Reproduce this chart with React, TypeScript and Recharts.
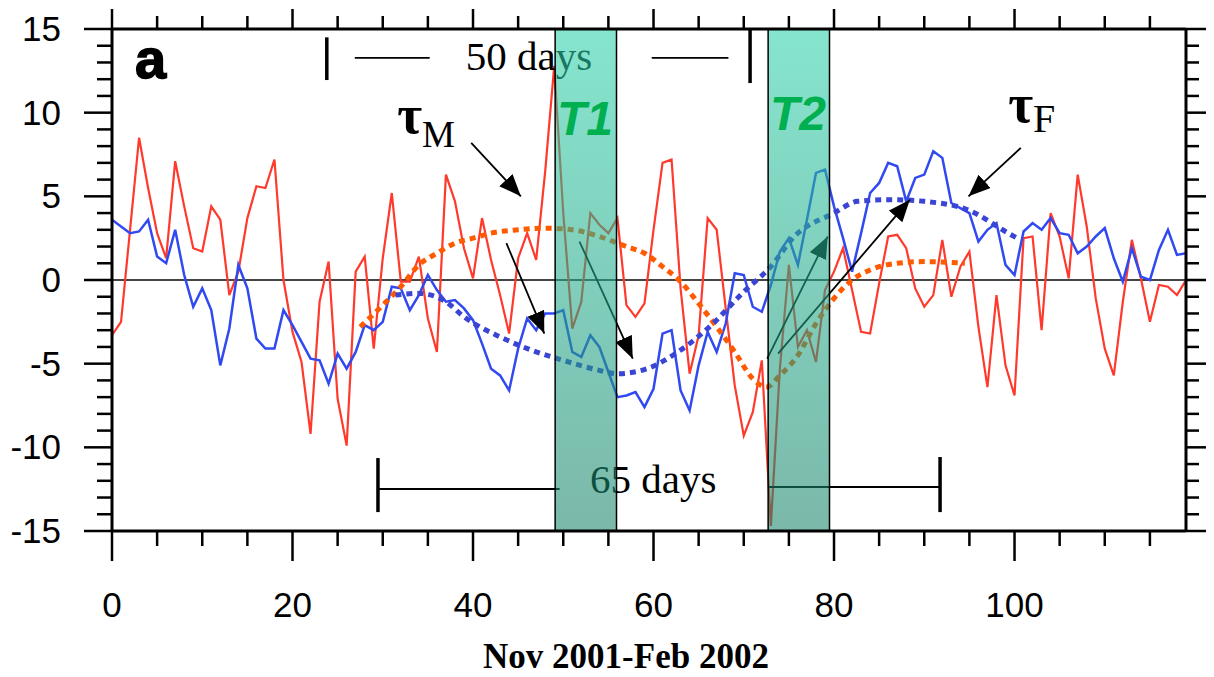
import { ComposedChart, Line, XAxis, YAxis, ReferenceArea, ReferenceLine, ReferenceDot } from "recharts";

const SANS = "'Liberation Sans', Arial, sans-serif";
const SERIF = "'Liberation Serif', 'Times New Roman', serif";

// day index, Nov 2001 - Feb 2002
const days = Array.from({ length: 120 }, (_, i) => i);

// red series (tau_M)
const red = [
  -3.3, -2.5, 3.0, 8.5, 5.5, 2.8, 1.3, 7.1, 4.4, 1.9,
  1.7, 4.4, 3.6, -0.9, 0.5, 3.7, 5.6, 5.5, 7.2, 0.0,
  -3.1, -4.9, -9.2, -1.3, 1.1, -7.1, -9.9, 0.5, 1.4, -4.1,
  1.3, 5.2, -0.1, -0.1, 1.4, -2.3, -4.3, 6.3, 4.7, 1.9,
  0.1, 3.7, 1.2, -0.9, -3.2, 1.3, 2.8, 1.2, 6.5, 12.8,
  4.0, -2.9, -1.3, 4.0, 3.3, 2.8, 3.7, -1.5, -2.2, -1.4,
  3.0, 7.0, 7.2, -0.5, -5.6, -3.3, 3.7, 3.0, -1.7, -6.3,
  -9.3, -7.9, -4.8, -14.7, -5.3, 0.9, -4.0, -3.0, -4.9, -0.6,
  0.5, 1.9, -0.6, -3.1, -3.2, -0.2, 2.6, 2.7, 1.9, -0.5,
  -1.6, -0.9, 2.4, -1.0, 0.8, 1.7, -2.8, -6.4, -0.9, -5.1,
  -6.9, 2.5, 2.6, -3.0, 4.0, 2.6, 0.1, 6.3, 3.2, -1.1,
  -4.1, -5.7, -1.3, 2.4, 0.1, -2.5, -0.3, -0.4, -0.9, 0.0,
];

// blue series (tau_F)
const blue = [
  3.6, 3.2, 2.8, 2.9, 3.6, 1.4, 1.0, 3.0, 0.3, -1.6,
  -0.5, -1.8, -5.1, -2.9, 0.9, -0.5, -3.5, -4.1, -4.1, -1.8,
  -2.7, -3.7, -4.7, -4.8, -6.2, -4.4, -5.3, -4.3, -2.7, -3.0,
  -2.5, -0.4, -0.5, -1.8, -0.9, 0.3, -0.6, -1.3, -1.2, -1.7,
  -2.4, -3.8, -5.3, -5.7, -6.6, -4.1, -2.3, -3.0, -2.0, -2.0,
  -1.8, -4.3, -4.6, -3.3, -4.0, -5.5, -7.0, -6.9, -6.7, -7.6,
  -6.5, -3.2, -3.0, -6.6, -7.8, -5.1, -3.1, -4.3, -2.6, 0.4,
  0.3, -1.6, -1.9, -0.3, 1.7, 2.5, 0.9, 3.6, 6.4, 6.6,
  4.4, 2.5, 0.5, 2.8, 5.2, 5.8, 7.0, 6.8, 4.7, 6.1,
  6.3, 7.7, 7.3, 4.6, 4.3, 4.0, 2.3, 3.0, 3.4, 0.9,
  0.3, 2.9, 3.4, 3.0, 3.7, 2.8, 2.7, 1.6, 2.0, 2.6,
  3.1, 1.3, -0.1, 1.9, 0.2, 0.0, 1.8, 3.0, 1.5, 1.6,
];

// smooth dotted envelopes
const tauMDays = [27.5, 30, 32, 34, 36, 38, 40, 42, 45, 48, 51, 54, 57, 59, 61, 63, 65, 67, 69, 71, 72.5, 74, 76, 78, 80, 82, 84, 87, 90, 94.5];
const tauMVals = [-2.8, -1.5, -0.4, 0.9, 1.6, 2.2, 2.5, 2.8, 3.0, 3.1, 3.0, 2.6, 2.0, 1.6, 0.8, -0.1, -1.4, -2.8, -4.3, -5.9, -6.4, -5.7, -4.5, -2.6, -1.1, 0.0, 0.6, 1.0, 1.1, 1.0];

const tauFDays = [31.4, 34, 37, 39, 43, 46.5, 50, 54, 56, 59.3, 62.7, 66.4, 70, 73, 75.6, 80, 82.6, 86.4, 90, 94.8, 99.3, 100.3];
const tauFVals = [-0.9, -0.8, -1.3, -2.2, -3.4, -4.2, -4.8, -5.4, -5.6, -5.3, -4.3, -2.7, -0.7, 0.8, 2.6, 4.0, 4.7, 4.8, 4.7, 4.2, 2.8, 2.5];

const xTicks = [0, 5, 10, 15, 20, 25, 30, 35, 40, 45, 50, 55, 60, 65, 70, 75, 80, 85, 90, 95, 100, 105, 110, 115];
const yTicks = Array.from({ length: 31 }, (_, i) => i - 15);

const table = days.map((d, i) => ({ day: d, red: red[i], blue: blue[i] }));
const tauM = tauMDays.map((d, i) => ({ day: d, v: tauMVals[i] }));
const tauF = tauFDays.map((d, i) => ({ day: d, v: tauFVals[i] }));

function BottomTick(p: any) {
  const v = p.payload.value;
  const major = v % 20 === 0;
  return (
    <g>
      <line x1={p.x} x2={p.x} y1={p.y} y2={p.y + (major ? 30 : 15)} stroke="#000" strokeWidth={2.5} />
      {major && (
        <text x={p.x} y={p.y + 86} textAnchor="middle" fontFamily={SANS} fontSize={35} fill="#000">
          {v}
        </text>
      )}
    </g>
  );
}

function TopTick(p: any) {
  const major = p.payload.value % 20 === 0;
  return <line x1={p.x} x2={p.x} y1={p.y} y2={p.y - (major ? 20 : 13)} stroke="#000" strokeWidth={2.5} />;
}

function LeftTick(p: any) {
  const v = p.payload.value;
  const major = v % 5 === 0;
  return (
    <g>
      <line x1={p.x} x2={p.x - (major ? 28 : 15)} y1={p.y} y2={p.y} stroke="#000" strokeWidth={2.5} />
      {major && (
        <text x={p.x - 51} y={p.y + 12} textAnchor="end" fontFamily={SANS} fontSize={35} fill="#000">
          {v}
        </text>
      )}
    </g>
  );
}

function RightTick(p: any) {
  const major = p.payload.value % 5 === 0;
  return <line x1={p.x} x2={p.x + (major ? 20 : 13)} y1={p.y} y2={p.y} stroke="#000" strokeWidth={2.5} />;
}

const arrow = (p: any) => (
  <line x1={p.x1} y1={p.y1} x2={p.x2} y2={p.y2} stroke="#000" strokeWidth={1.8} markerEnd="url(#head)" />
);
const thin = (p: any) => <line x1={p.x1} y1={p.y1} x2={p.x2} y2={p.y2} stroke="#000" strokeWidth={1.8} />;
const thick = (p: any) => <line x1={p.x1} y1={p.y1} x2={p.x2} y2={p.y2} stroke="#000" strokeWidth={3.5} />;

export default function App() {
  const frame = { stroke: "#000", strokeWidth: 3 };
  return (
    <div style={{ position: "absolute", left: 0, top: 0 }}>
      <ComposedChart width={1214} height={677} data={table} margin={{ top: 0, right: 0, bottom: 0, left: 0 }}>
        <defs>
          <linearGradient id="band" x1="0" y1="0" x2="0" y2="1">
            <stop offset="0%" stopColor="#2dd2aa" stopOpacity={0.58} />
            <stop offset="100%" stopColor="#17836a" stopOpacity={0.57} />
          </linearGradient>
          <marker id="head" markerUnits="userSpaceOnUse" markerWidth={24} markerHeight={20} refX={22} refY={9} orient="auto">
            <path d="M0,0 L22,9 L0,18 z" fill="#000" />
          </marker>
        </defs>
        <XAxis
          dataKey="day" type="number" domain={[0, 119]} ticks={xTicks} interval={0} allowDataOverflow
          height={146} tickSize={0} tickMargin={0} tickLine={false} tick={BottomTick} axisLine={frame}
        />
        <XAxis
          xAxisId="top" orientation="top" dataKey="day" type="number" domain={[0, 119]} ticks={xTicks} interval={0}
          allowDataOverflow height={29} tickSize={0} tickMargin={0} tickLine={false} tick={TopTick} axisLine={frame}
        />
        <YAxis
          type="number" domain={[-15, 15]} ticks={yTicks} interval={0} allowDataOverflow width={112}
          tickSize={0} tickMargin={0} tickLine={false} tick={LeftTick} axisLine={frame}
        />
        <YAxis
          yAxisId="right" orientation="right" type="number" domain={[-15, 15]} ticks={yTicks} interval={0}
          allowDataOverflow width={28} tickSize={0} tickMargin={0} tickLine={false} tick={RightTick} axisLine={frame}
        />

        <ReferenceLine y={0} stroke="#444" strokeWidth={2} zIndex={300} />

        <Line dataKey="red" type="linear" stroke="#ff3a2c" strokeWidth={2.2} dot={false} isAnimationActive={false} />
        <Line dataKey="blue" type="linear" stroke="#3149f0" strokeWidth={2.5} dot={false} isAnimationActive={false} />
        <Line data={tauM} dataKey="v" type="monotone" stroke="#ff5a00" strokeWidth={5} strokeDasharray="6 5" dot={false} isAnimationActive={false} />
        <Line data={tauF} dataKey="v" type="monotone" stroke="#3b45d4" strokeWidth={5} strokeDasharray="6 5" dot={false} isAnimationActive={false} />

        {/* arrows */}
        <ReferenceLine zIndex={420} segment={[{ x: 39.8, y: 8.2 }, { x: 45.3, y: 5.0 }]} shape={arrow} />
        <ReferenceLine zIndex={420} segment={[{ x: 43.7, y: 2.2 }, { x: 47.9, y: -3.2 }]} shape={arrow} />
        <ReferenceLine zIndex={420} segment={[{ x: 51.8, y: 2.3 }, { x: 57.7, y: -4.7 }]} shape={arrow} />
        <ReferenceLine zIndex={420} segment={[{ x: 100.7, y: 7.9 }, { x: 94.9, y: 5.0 }]} shape={arrow} />
        <ReferenceLine zIndex={420} segment={[{ x: 72.6, y: -4.7 }, { x: 79.3, y: 2.6 }]} shape={arrow} />
        <ReferenceLine zIndex={420} segment={[{ x: 73.8, y: -4.4 }, { x: 88.4, y: 4.8 }]} shape={arrow} />

        {/* 50 days bracket */}
        <ReferenceLine zIndex={420} segment={[{ x: 23.8, y: 14.5 }, { x: 23.8, y: 11.95 }]} shape={thick} />
        <ReferenceLine zIndex={420} segment={[{ x: 26.9, y: 13.27 }, { x: 35.2, y: 13.27 }]} shape={thin} />
        <ReferenceLine zIndex={420} segment={[{ x: 59.8, y: 13.27 }, { x: 68.3, y: 13.27 }]} shape={thin} />
        <ReferenceLine zIndex={420} segment={[{ x: 70.7, y: 14.94 }, { x: 70.7, y: 11.77 }]} shape={thick} />
        {/* 65 days bracket */}
        <ReferenceLine zIndex={420} segment={[{ x: 29.47, y: -10.64 }, { x: 29.47, y: -13.87 }]} shape={thick} />
        <ReferenceLine zIndex={420} segment={[{ x: 29.47, y: -12.49 }, { x: 49.6, y: -12.49 }]} shape={thin} />
        <ReferenceLine zIndex={420} segment={[{ x: 72.7, y: -12.37 }, { x: 91.75, y: -12.37 }]} shape={thin} />
        <ReferenceLine zIndex={420} segment={[{ x: 91.75, y: -10.58 }, { x: 91.75, y: -13.87 }]} shape={thick} />

        <ReferenceDot zIndex={430} x={39.2} y={12.55} r={1} shape={(p: any) => (
          <text x={p.cx} y={p.cy} fontFamily={SERIF} fontSize={41} fill="#000">50 days</text>
        )} />
        <ReferenceDot zIndex={430} x={52.96} y={-12.73} r={1} shape={(p: any) => (
          <text x={p.cx} y={p.cy} fontFamily={SERIF} fontSize={41} fill="#000">65 days</text>
        )} />
        <ReferenceDot zIndex={430} x={31.6} y={8.79} r={1} shape={(p: any) => (
          <text x={p.cx} y={p.cy} fontFamily={SERIF} fill="#000">
            <tspan fontSize={54} fontWeight="bold">τ</tspan>
            <tspan fontSize={37} dy={14}>M</tspan>
          </text>
        )} />
        <ReferenceDot zIndex={430} x={99.3} y={9.44} r={1} shape={(p: any) => (
          <text x={p.cx} y={p.cy} fontFamily={SERIF} fill="#000">
            <tspan fontSize={54} fontWeight="bold">τ</tspan>
            <tspan fontSize={40} dy={10}>F</tspan>
          </text>
        )} />
        <ReferenceDot zIndex={430} x={2.55} y={12.07} r={1} shape={(p: any) => (
          <text x={p.cx} y={p.cy} fontFamily={SANS} fontSize={56} fontWeight={900} stroke="#000" strokeWidth={1.5} fill="#000">a</text>
        )} />
        <ReferenceDot zIndex={430} x={56.95} y={-15} r={1} shape={(p: any) => (
          <text x={p.cx} y={p.cy + 137} textAnchor="middle" fontFamily={SERIF} fontSize={35} fontWeight="bold" fill="#000">
            Nov 2001-Feb 2002
          </text>
        )} />

        {/* T1 / T2 windows, drawn over the curves */}
        <ReferenceArea zIndex={450} x1={49.1} x2={55.9} y1={-15} y2={15} fill="url(#band)" fillOpacity={1} stroke="#000" strokeWidth={1.5} />
        <ReferenceArea zIndex={450} x1={72.7} x2={79.5} y1={-15} y2={15} fill="url(#band)" fillOpacity={1} stroke="#000" strokeWidth={1.5} />

        <ReferenceDot zIndex={700} x={49.3} y={8.67} r={1} shape={(p: any) => (
          <text x={p.cx} y={p.cy} fontFamily={SANS} fontSize={48} fontWeight="bold" fontStyle="italic" fill="#00b050">T1</text>
        )} />
        <ReferenceDot zIndex={700} x={72.9} y={8.96} r={1} shape={(p: any) => (
          <text x={p.cx} y={p.cy} fontFamily={SANS} fontSize={48} fontWeight="bold" fontStyle="italic" fill="#00b050">T2</text>
        )} />
      </ComposedChart>
    </div>
  );
}
